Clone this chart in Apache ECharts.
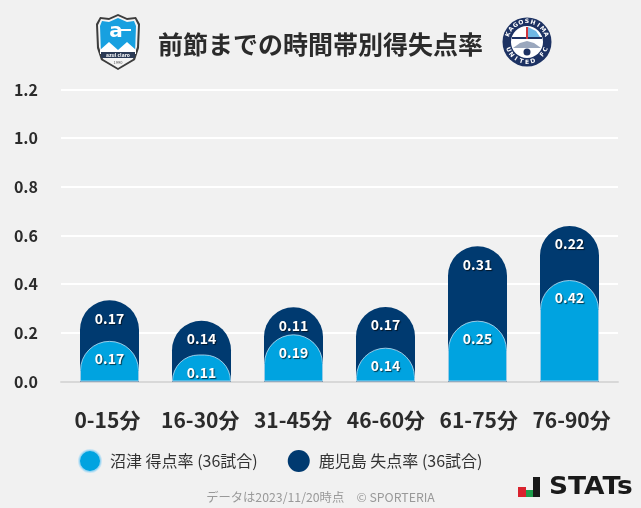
<!DOCTYPE html>
<html><head><meta charset="utf-8">
<style>html,body{margin:0;padding:0;background:#f1f1f1}#c{width:641px;height:508px}</style>
<script src="https://cdn.jsdelivr.net/npm/echarts@6/dist/echarts.min.js"></script></head>
<body><div id="c"></div>
<script>
const categories = ['0-15分','16-30分','31-45分','46-60分','61-75分','76-90分'];
const numazuFor = [0.167,0.111,0.194,0.139,0.25,0.417];
const kagoshimaAgainst = [0.167,0.139,0.111,0.167,0.306,0.222];
const nameA = '沼津 得点率 (36試合)';
const nameB = '鹿児島 失点率 (36試合)';
const titleText = '前節までの時間帯別得失点率';
const footerText = 'データは2023/11/20時点　© SPORTERIA';
const F = '"Noto Sans CJK JP","Noto Sans",sans-serif';
const LIGHT='#00a3e0', NAVY='#003a70';
const stackTop = numazuFor.map((v,i)=>v+kagoshimaAgainst[i]);

const lbl = arr => ({show:true,position:'insideTop',distance:11,
  formatter:p=>arr[p.dataIndex].toFixed(2),color:'#fff',fontFamily:F,fontWeight:'bold',fontSize:14,
  textShadowColor:'rgba(0,0,0,.65)',textShadowBlur:1,textShadowOffsetX:1,textShadowOffsetY:1});

// logos
const g = [];
// Numazu shield
g.push({type:'polygon',shape:{points:[[118,14],[127,18],[136,17],[140,24],[139,48],[135,60],[118,70],[101,60],[97,48],[96,24],[100,17],[109,18]]},style:{fill:'#3d3d3d'}});
g.push({type:'polygon',shape:{points:[[118,16],[127,20],[135,19],[138,25],[137,47],[133,59],[118,68],[103,59],[99,47],[98,25],[101,19],[109,20]]},style:{fill:'#f4f4f4'}});
g.push({type:'polygon',shape:{points:[[118,18],[127,22],[134,21],[136,26],[135,54],[101,54],[100,26],[102,21],[109,22]]},style:{fill:'#17a0e0'}});
g.push({type:'polygon',shape:{points:[[100,54],[100,50],[109,42],[118,50],[127,42],[136,50],[136,54]]},style:{fill:'#fff'}});
g.push({type:'rect',shape:{x:101,y:52,width:34,height:6},style:{fill:'#2b3a55'}});
g.push({type:'text',style:{x:118,y:55,text:'azul claro',fill:'#fff',font:'bold 5px '+F,align:'center',verticalAlign:'middle'}});
g.push({type:'text',style:{x:118,y:62,text:'1990',fill:'#555',font:'4px '+F,align:'center',verticalAlign:'middle'}});
g.push({type:'text',style:{x:116,y:32,text:'a',fill:'#fff',font:'bold 20px "DejaVu Sans"',align:'center',verticalAlign:'middle'}});
g.push({type:'rect',shape:{x:121,y:29,width:10,height:2},style:{fill:'#fff'}});
// Kagoshima badge
g.push({type:'circle',shape:{cx:527,cy:42,r:24.5},style:{fill:'#1d3263'}});
g.push({type:'circle',shape:{cx:527,cy:42,r:16},style:{fill:'#fff'}});
g.push({type:'rect',shape:{x:512,y:37,width:30,height:2},style:{fill:'#1d3263'}});
g.push({type:'rect',shape:{x:526,y:27,width:2,height:12},style:{fill:'#d0343c'}});
g.push({type:'polygon',shape:{points:[[528,27],[536,31],[540,37],[528,37]]},style:{fill:'#6fb7e4'}});
g.push({type:'polygon',shape:{points:[[513,48],[520,43],[527,41],[534,43],[541,48]]},style:{fill:'#9aa7bd'}});
g.push({type:'circle',shape:{cx:527,cy:52,r:3.5},style:{fill:'#1d3263'}});
const ring=(s,c0,step,flip)=>[...s].forEach((ch,i)=>{
  const a=c0+(i-(s.length-1)/2)*step;
  const rad=a*Math.PI/180;
  g.push({type:'text',x:527+20.2*Math.sin(rad),y:42-20.2*Math.cos(rad),rotation:-(flip?(a-180):a)*Math.PI/180,
    style:{text:ch,fill:'#fff',font:'bold 6px "DejaVu Sans"',align:'center',verticalAlign:'middle'}});
});
ring('KAGOSHIMA',0,17,false);
ring('UNITED FC',180,-17,true);
// STATS logo
g.push({type:'rect',shape:{x:518,y:487,width:8,height:10},style:{fill:'#d9232e'}});
g.push({type:'rect',shape:{x:526,y:490,width:7,height:7},style:{fill:'#1f9e4d'}});
g.push({type:'rect',shape:{x:533,y:477,width:7,height:20},style:{fill:'#1a1a1a'}});
g.push({type:'text',x:549,y:488,scaleX:1.08,style:{text:'STATs',fill:'#1a1a1a',font:'bold 24.5px "DejaVu Sans"',align:'left',verticalAlign:'middle'}});
g.push({type:'text',style:{x:320.5,y:497,text:footerText,fill:'#999',font:'12.3px '+F,align:'center',verticalAlign:'middle'}});

const chart = echarts.init(document.getElementById('c'),null,{renderer:'canvas'});
chart.setOption({
  animation:false,backgroundColor:'#f1f1f1',
  title:{text:titleText,left:315.5,top:21,textAlign:'center',textStyle:{fontFamily:F,fontWeight:'bold',fontSize:25,color:'#2b2b2b',lineHeight:36}},
  legend:{data:[nameA,nameB],left:73,top:444,itemWidth:22,itemHeight:22,itemGap:30,icon:'circle',
    textStyle:{fontFamily:F,fontSize:16,color:'#333',padding:[0,0,0,4]}},
  grid:[{left:61,right:23,top:89.5,bottom:126.5},{left:63.5,width:552,top:89.5,bottom:126.5}],
  xAxis:[
    {type:'category',gridIndex:0,data:categories,axisLine:{show:true,lineStyle:{color:'#d8d8d8',width:2}},axisTick:{show:false},
     axisLabel:{interval:0,margin:28,fontFamily:F,fontWeight:'bold',fontSize:21,color:'#2b2b2b'}},
    {type:'category',gridIndex:1,data:categories,axisLine:{show:false},axisTick:{show:false},axisLabel:{show:false}}
  ],
  yAxis:[
    {type:'value',gridIndex:0,min:0,max:1.2,interval:0.2,axisLine:{show:false},axisTick:{show:false},
     splitLine:{lineStyle:{color:'#fff',width:2}},
     axisLabel:{margin:23,padding:[0,0,2,0],fontFamily:F,fontWeight:'bold',fontSize:16,color:'#2b2b2b',formatter:v=>v.toFixed(1)}},
    {type:'value',gridIndex:1,min:0,max:1.2,interval:0.2,show:false,splitLine:{show:false}}
  ],
  series:[
    {name:nameB,type:'bar',xAxisIndex:1,yAxisIndex:1,data:stackTop,barWidth:59,barGap:'-100%',z:3,
     itemStyle:{color:NAVY,borderRadius:[30,30,0,0]},label:lbl(kagoshimaAgainst)},
    {name:nameA,type:'bar',xAxisIndex:1,yAxisIndex:1,data:numazuFor,barWidth:59,barGap:'-100%',z:4,
     itemStyle:{color:LIGHT,borderRadius:[30,30,0,0],borderColor:'rgba(190,225,245,.8)',borderWidth:1},label:lbl(numazuFor)}
  ],
  graphic:g
});
</script></body></html>
